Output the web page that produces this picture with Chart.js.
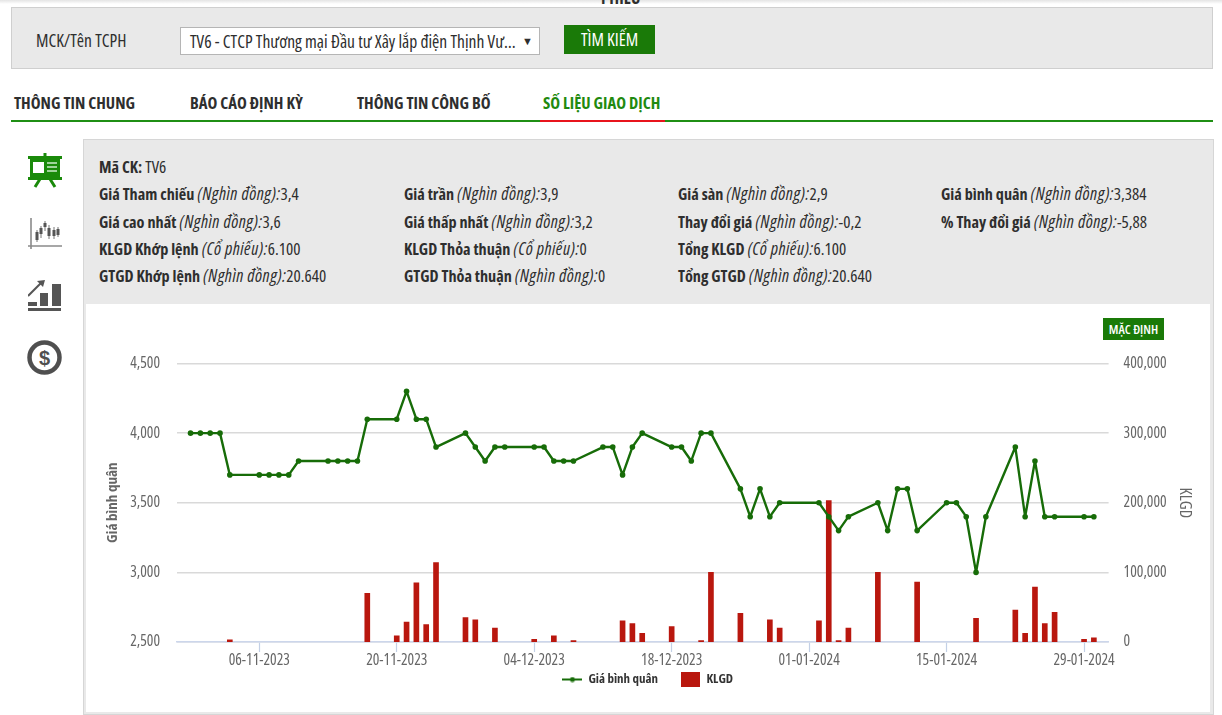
<!DOCTYPE html>
<html lang="vi"><head><meta charset="utf-8">
<script src="https://cdn.jsdelivr.net/npm/chart.js@4"></script>
<style>
html,body{margin:0;padding:0;background:#fff;width:1222px;height:715px;overflow:hidden}
body{font-family:"Open Sans",sans-serif;font-stretch:75%;color:#2e2e2e;font-size:17px;position:relative}
.a{position:absolute;white-space:nowrap;line-height:20px}
b{font-weight:bold;font-size:16.2px}i{font-style:italic;font-size:17.5px;letter-spacing:.5px}
#chartBox{position:absolute;left:86px;top:304px;width:1124px;height:408px;background:#fff}
</style></head><body>
<div class="a" style="left:0;top:0;width:1222px;height:4px;background:linear-gradient(#e4e4e4,#fff)"></div>
<div class="a" style="left:601px;top:-12px;font-weight:bold;font-size:17px">PHIẾU</div>
<div class="a" style="left:11px;top:7px;width:1200px;height:60px;background:#e9e9e9;border:1px solid #cfcfcf"></div>
<div class="a" style="left:36px;top:30px;font-size:17.5px;font-weight:500">MCK/Tên TCPH</div>
<div class="a" style="left:180px;top:27px;width:358px;height:26px;background:#fff;border:1px solid #b5b5b5"></div>
<div class="a" style="left:190px;top:31px;font-size:17.5px">TV6 - CTCP Thương mại Đầu tư Xây lắp điện Thịnh Vư…</div>
<div class="a" style="left:522px;top:31px;font-size:11px">▼</div>
<div class="a" style="left:564px;top:25px;width:91px;height:29px;background:#1a7a08;color:#fff;text-align:center;line-height:29px;font-size:17.5px">TÌM KIẾM</div>
<div class="a" style="left:14px;top:93px;font-weight:bold;font-size:16.6px">THÔNG TIN CHUNG</div>
<div class="a" style="left:190px;top:93px;font-weight:bold;font-size:16.6px">BÁO CÁO ĐỊNH KỲ</div>
<div class="a" style="left:357px;top:93px;font-weight:bold;font-size:16.6px">THÔNG TIN CÔNG BỐ</div>
<div class="a" style="left:543px;top:93px;font-weight:bold;font-size:16.6px;color:#1f8a0f">SỐ LIỆU GIAO DỊCH</div>
<div class="a" style="left:11px;top:120px;width:1202px;height:2px;background:#1f8f14"></div>
<div class="a" style="left:540px;top:120px;width:125px;height:2px;background:#e8141c"></div>
<div class="a" style="left:83px;top:139px;width:1129px;height:574px;background:#e9e9e9;border:1px solid #d6d6d6"></div>

<svg class="a" style="left:28px;top:153px" width="34" height="35" viewBox="0 0 34 35"><rect x="15.5" y="0" width="3" height="4" fill="#1a8a0a"/><rect x="0" y="3" width="34" height="3" fill="#1a8a0a"/><rect x="2" y="5" width="30" height="19" fill="#1a8a0a"/><rect x="5" y="9" width="11" height="11" fill="#fff"/><rect x="19" y="9" width="10" height="2" fill="#9fd39a"/><rect x="19" y="13" width="10" height="2" fill="#9fd39a"/><rect x="19" y="17" width="10" height="2" fill="#9fd39a"/><rect x="0" y="24" width="34" height="3" fill="#1a8a0a"/><path d="M12 26 L7 34 M22 26 L27 34" stroke="#1a8a0a" stroke-width="3"/></svg>
<svg class="a" style="left:28px;top:217px" width="34" height="34" viewBox="0 0 34 34"><path d="M3 1V32M0 29H34" stroke="#8a8a8a" stroke-width="1.6" fill="none"/><g stroke="#777" stroke-width="1"><path d="M9 13V25M13 9V21M17 4V14M21 8V22M26 10V22M30 10V20"/></g><g fill="#555"><rect x="7.5" y="15" width="3" height="8"/><rect x="11.5" y="11" width="3" height="6"/><rect x="15.5" y="6" width="3" height="4"/><rect x="19.5" y="11" width="3" height="8"/><rect x="24.5" y="13" width="3" height="6"/><rect x="28.5" y="12" width="3" height="6"/></g></svg>
<svg class="a" style="left:28px;top:280px" width="33" height="33" viewBox="0 0 33 33"><rect x="0" y="22" width="9" height="4" fill="#555"/><rect x="12" y="13" width="8" height="13" fill="#555"/><rect x="24" y="4" width="9" height="22" fill="#555"/><rect x="0" y="28" width="33" height="3" fill="#555"/><path d="M0 16 L13 3" stroke="#555" stroke-width="2"/><path d="M9 1 L17 0 L15 7Z" fill="#555"/></svg>
<svg class="a" style="left:27px;top:340px" width="35" height="35" viewBox="0 0 35 35"><circle cx="17.5" cy="17.5" r="15" fill="none" stroke="#4f4f4f" stroke-width="4.5"/><text x="17.5" y="24.5" text-anchor="middle" font-family="Liberation Sans" font-weight="bold" font-size="20" fill="#4f4f4f">$</text></svg>

<div class="a" style="left:99px;top:157px"><b>Mã CK:</b> TV6</div>
<div class="a" style="left:99px;top:183px"><b>Giá Tham chiếu</b> <i>(Nghìn đồng):</i>3,4</div>
<div class="a" style="left:404px;top:183px"><b>Giá trần</b> <i>(Nghìn đồng):</i>3,9</div>
<div class="a" style="left:678px;top:183px"><b>Giá sàn</b> <i>(Nghìn đồng):</i>2,9</div>
<div class="a" style="left:941px;top:183px"><b>Giá bình quân</b> <i>(Nghìn đồng):</i>3,384</div>
<div class="a" style="left:99px;top:211px"><b>Giá cao nhất</b> <i>(Nghìn đồng):</i>3,6</div>
<div class="a" style="left:404px;top:211px"><b>Giá thấp nhất</b> <i>(Nghìn đồng):</i>3,2</div>
<div class="a" style="left:678px;top:211px"><b>Thay đổi giá</b> <i>(Nghìn đồng):</i>-0,2</div>
<div class="a" style="left:941px;top:211px"><b>% Thay đổi giá</b> <i>(Nghìn đồng):</i>-5,88</div>
<div class="a" style="left:99px;top:238px"><b>KLGD Khớp lệnh</b> <i>(Cổ phiếu):</i>6.100</div>
<div class="a" style="left:404px;top:238px"><b>KLGD Thỏa thuận</b> <i>(Cổ phiếu):</i>0</div>
<div class="a" style="left:678px;top:238px"><b>Tổng KLGD</b> <i>(Cổ phiếu):</i>6.100</div>
<div class="a" style="left:99px;top:265px"><b>GTGD Khớp lệnh</b> <i>(Nghìn đồng):</i>20.640</div>
<div class="a" style="left:404px;top:265px"><b>GTGD Thỏa thuận</b> <i>(Nghìn đồng):</i>0</div>
<div class="a" style="left:678px;top:265px"><b>Tổng GTGD</b> <i>(Nghìn đồng):</i>20.640</div>

<div id="chartBox"><canvas id="c" width="1124" height="408"></canvas></div>
<div class="a" style="left:1103px;top:318px;width:61px;height:22px;background:#1a7a08;color:#fff;text-align:center;line-height:22px;font-size:13px;font-weight:600">MẶC ĐỊNH</div>

<script>
const FONT='"Open Sans",sans-serif';
const dates=["30-10-2023","31-10-2023","01-11-2023","02-11-2023","03-11-2023","06-11-2023","07-11-2023","08-11-2023","09-11-2023","10-11-2023","13-11-2023","14-11-2023","15-11-2023","16-11-2023","17-11-2023","20-11-2023","21-11-2023","22-11-2023","23-11-2023","24-11-2023","27-11-2023","28-11-2023","29-11-2023","30-11-2023","01-12-2023","04-12-2023","05-12-2023","06-12-2023","07-12-2023","08-12-2023","11-12-2023","12-12-2023","13-12-2023","14-12-2023","15-12-2023","18-12-2023","19-12-2023","20-12-2023","21-12-2023","22-12-2023","25-12-2023","26-12-2023","27-12-2023","28-12-2023","29-12-2023","02-01-2024","03-01-2024","04-01-2024","05-01-2024","08-01-2024","09-01-2024","10-01-2024","11-01-2024","12-01-2024","15-01-2024","16-01-2024","17-01-2024","18-01-2024","19-01-2024","22-01-2024","23-01-2024","24-01-2024","25-01-2024","26-01-2024","29-01-2024","30-01-2024"];
const giaBinhQuan=[4000,4000,4000,4000,3700,3700,3700,3700,3700,3800,3800,3800,3800,3800,4100,4100,4300,4100,4100,3900,4000,3900,3800,3900,3900,3900,3900,3800,3800,3800,3900,3900,3700,3900,4000,3900,3900,3800,4000,4000,3600,3400,3600,3400,3500,3500,3400,3300,3400,3500,3300,3600,3600,3300,3500,3500,3400,3000,3400,3900,3400,3800,3400,3400,3400,3400];
const klgd=[0,0,0,0,3000,0,0,0,0,0,0,0,0,0,70000,9000,28500,85000,25000,114000,35000,32000,0,20000,0,4000,0,9000,0,2000,0,0,30500,26500,12500,22000,0,0,2000,100000,41000,0,0,32000,20000,30500,203000,2000,20000,100000,0,0,0,86000,0,0,0,34000,0,46000,12500,79000,26500,42500,4000,6000];
const tickDates=["06-11-2023","20-11-2023","04-12-2023","18-12-2023","01-01-2024","15-01-2024","29-01-2024"];
const toDay=s=>{const [d,m,y]=s.split('-').map(Number);return Date.UTC(y,m-1,d)/864e5;};
const fromDay=v=>{const t=new Date(v*864e5);const p=n=>String(n).padStart(2,'0');return p(t.getUTCDate())+'-'+p(t.getUTCMonth()+1)+'-'+t.getUTCFullYear();};
const GREEN='#176c08',RED='#b9170e',AX='#ccd6eb';
const lineIcon=(()=>{const c=document.createElement('canvas');c.width=20;c.height=6;const x=c.getContext('2d');x.strokeStyle=GREEN;x.lineWidth=2;x.beginPath();x.moveTo(0,3);x.lineTo(20,3);x.stroke();x.fillStyle=GREEN;x.beginPath();x.arc(10,3,2.5,0,7);x.fill();return c;})();
const barIcon=(()=>{const c=document.createElement('canvas');c.width=19;c.height=15;const x=c.getContext('2d');x.fillStyle=RED;x.fillRect(0,0,19,15);return c;})();
const tallXLabels={id:'tallXLabels',afterLayout(ch){ch.scales.x.bottom=ch.scales.x.top+32;}};
function draw(){new Chart(document.getElementById('c'),{
 plugins:[tallXLabels],
 data:{datasets:[
  {type:'line',label:'Giá bình quân',data:dates.map((d,i)=>({x:toDay(d),y:giaBinhQuan[i]})),yAxisID:'yL',xAxisID:'x',borderColor:GREEN,backgroundColor:GREEN,borderWidth:2.4,borderJoinStyle:'round',tension:0,pointRadius:2.8,pointBorderWidth:0,pointBackgroundColor:GREEN,order:0},
  {type:'bar',label:'KLGD',data:dates.map((d,i)=>({x:toDay(d),y:klgd[i]||null})),yAxisID:'yR',xAxisID:'x',backgroundColor:RED,borderWidth:0,barThickness:5,order:1}
 ]},
 options:{responsive:false,animation:false,locale:'en-US',
  layout:{padding:{top:59.5,left:0,right:0,bottom:16}},
  plugins:{tooltip:{enabled:false},
   legend:{position:'bottom',labels:{usePointStyle:true,pointStyleWidth:19,color:'#333',font:{family:FONT,size:13,weight:'bold semi-condensed'},padding:23,
     generateLabels:ch=>ch.data.datasets.map((d,i)=>({text:d.label,pointStyle:i==0?lineIcon:barIcon,datasetIndex:i,fontColor:'#333',hidden:false}))}}},
  scales:{
   x:{type:'linear',offset:false,min:toDay(tickDates[0])-8.38,max:toDay(tickDates[0])+86.5,
    afterBuildTicks:s=>{s.ticks=tickDates.map(t=>({value:toDay(t)}));},
    afterFit:s=>{s.height=8;},
    border:{color:AX,width:1.5},
    grid:{offset:false,drawOnChartArea:false,drawTicks:true,tickLength:10,tickColor:'#c3d0e6',tickWidth:1.2},
    ticks:{callback:v=>fromDay(v),autoSkip:false,maxRotation:0,minRotation:0,color:'#666',padding:-1,font:{family:FONT,size:15.5,weight:'condensed'}}},
   yL:{type:'linear',position:'left',min:2500,max:4500,
    afterFit:s=>{s.width=91;},
    afterBuildTicks:s=>{s.ticks=[2500,3000,3500,4000,4500].map(v=>({value:v}));},
    border:{display:false},grid:{color:'#d9d9d9',lineWidth:1.4,drawTicks:false},
    title:{display:true,text:'Giá bình quân',color:'#666',font:{family:FONT,size:15,weight:'bold condensed'},padding:{top:18,bottom:0}},
    ticks:{color:'#666',padding:17,font:{family:FONT,size:15.5,weight:'condensed'}}},
   yR:{type:'linear',position:'right',min:0,max:400000,
    afterFit:s=>{s.width=101.4;},
    afterBuildTicks:s=>{s.ticks=[0,100000,200000,300000,400000].map(v=>({value:v}));},
    border:{display:false},grid:{display:false,drawTicks:false},
    title:{display:true,text:'KLGD',color:'#666',font:{family:FONT,size:16.5,weight:'condensed'},padding:{top:15,bottom:0}},
    ticks:{color:'#666',padding:15,font:{family:FONT,size:15.5,weight:'condensed'}}}
  }}
});}
draw();
</script>
</body></html>
